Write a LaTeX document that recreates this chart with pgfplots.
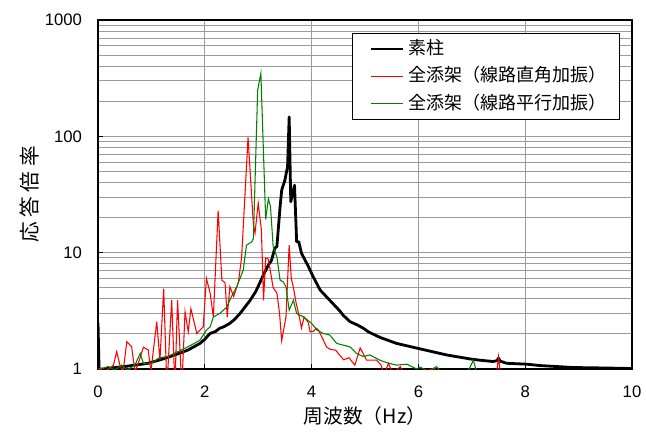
\documentclass[border=0pt]{standalone}
\usepackage{fontspec}
\setmainfont{Liberation Sans}
\newfontfamily\jp{Noto Sans CJK JP}
\usepackage{pgfplots}
\pgfplotsset{compat=1.18}
\definecolor{gridc}{RGB}{155,155,155}
\definecolor{rd}{RGB}{255,0,0}
\definecolor{gr}{RGB}{0,128,0}
\begin{document}
\begin{tikzpicture}
\begin{axis}[
 scale only axis, width=400.5pt, height=261.75pt,
 ymode=log, xmin=0, xmax=10, ymin=1, ymax=1000,
 xtick={0,2,...,10}, ytick={1,10,100,1000}, yticklabels={1,10,100,1000},
 minor ytick={2,3,...,9,20,30,...,90,200,300,...,900},
 xmajorgrids, ymajorgrids, yminorgrids,
 grid style={gridc, line width=0.75pt},
 minor grid style={gridc, line width=0.75pt},
 axis line style={black, line width=1pt},
 tick style={black, line width=0.75pt},
 major tick length=4pt, minor tick length=0pt, tick align=inside,
 xtick pos=bottom, ytick pos=left,
 ticklabel style={font=\fontsize{12.5}{14}\selectfont},
 /pgf/number format/assume math mode=true,
 yticklabel style={xshift=-8.5pt},
 xticklabel style={yshift=-9pt},
 xlabel={\jp\fontsize{14.8}{16}\selectfont 周波数（Hz）},
 ylabel={\jp\fontsize{15.5}{16}\selectfont 応\kern3.5pt 答\kern3.5pt 倍\kern3.5pt 率},
 xlabel style={at={(axis description cs:0.5,-0.1347)}, anchor=center},
 ylabel style={at={(axis description cs:-0.1273,0.5)}, anchor=center},
 legend style={at={(0.9775,0.9628)}, anchor=north east, draw=black, line width=0.75pt,
   fill=white, inner xsep=6pt, inner ysep=4.6pt, row sep=6.6pt,
   font=\jp\fontsize{13.5}{16}\selectfont,
   nodes={inner xsep=3.5pt, inner ysep=0pt, text height=11pt, text depth=3pt}},
 legend cell align=left,
 legend image code/.code={\path (0pt,0pt); \draw[#1] (7pt,0pt) -- (31pt,0pt);},
]
\addplot[black, line width=2.1pt, line join=round] coordinates {
(0,2.5) (0.02,1.0) (0.1,1.0) (0.32,1.03) (0.5,1.05) (0.69,1.08) (0.94,1.12)
(1.19,1.21) (1.44,1.32) (1.69,1.46) (1.91,1.66) (2.0,1.8) (2.07,1.96) (2.10,2.02)
(2.2,2.1) (2.28,2.24) (2.35,2.3) (2.47,2.47) (2.55,2.65) (2.66,3.0) (2.75,3.4)
(2.85,3.9) (2.95,4.6) (3.03,5.5) (3.10,6.5) (3.19,7.8) (3.25,8.6) (3.31,10.9)
(3.35,11.3) (3.41,24.8) (3.44,34.5) (3.50,42) (3.55,55) (3.58,147) (3.61,27.4)
(3.68,38) (3.72,12.4) (3.76,12.4) (3.81,9.9) (3.94,7.6) (4.03,6.2) (4.16,4.77)
(4.34,3.9) (4.53,3.15) (4.59,2.9) (4.72,2.55) (4.85,2.4) (4.97,2.24) (5.06,2.09)
(5.28,1.87) (5.59,1.66) (6.03,1.49) (6.53,1.32) (6.97,1.22) (7.15,1.19) (7.40,1.16)
(7.47,1.18) (7.50,1.24) (7.53,1.17) (7.65,1.12) (8.03,1.10) (8.28,1.07) (8.9,1.03)
(9.5,1.02) (10,1.01)
};
\addlegendentry{素柱}
\addplot[rd, line width=0.8pt] coordinates {
(0,1.0) (0.04,1.01) (0.1,0.95) (0.2,1.0) (0.29,1.08) (0.35,1.41) (0.41,1.08)
(0.47,0.95) (0.54,1.72) (0.63,1.55) (0.69,0.95) (0.75,1.1) (0.85,1.54) (0.94,1.46)
(0.99,0.95) (1.10,2.55) (1.16,1.19) (1.23,4.9) (1.29,0.7) (1.38,3.9) (1.44,0.7)
(1.49,3.9) (1.57,0.7) (1.63,3.1) (1.69,2.09) (1.74,3.3) (1.85,2.02) (1.97,2.3)
(2.03,6.0) (2.10,4.5) (2.16,2.8) (2.25,23) (2.32,5.8) (2.38,5.5) (2.42,2.8)
(2.47,5.1) (2.54,4.2) (2.63,5.6) (2.69,9.2) (2.81,98) (2.91,17.3) (2.94,14.7)
(3.00,26.7) (3.06,15.6) (3.10,3.9) (3.14,9.0) (3.19,8.8) (3.28,5.0) (3.35,4.5)
(3.40,3.0) (3.44,1.75) (3.52,2.8) (3.58,11.6) (3.62,6) (3.66,5.0) (3.71,3.7)
(3.77,2.8) (3.81,2.25) (3.86,2.8) (3.94,2.5) (3.97,2.09) (4.03,2.1) (4.09,2.24)
(4.13,2.16) (4.22,1.77) (4.28,1.55) (4.34,1.48) (4.45,1.45) (4.6,1.2) (4.7,1.25)
(4.81,1.08) (4.91,1.52) (5.03,1.19) (5.22,1.19) (5.30,1.08) (5.36,0.9) (5.44,1.12)
(5.52,0.9) (5.66,1.05) (5.75,0.85) (6.0,0.9) (6.3,1.02) (6.4,0.8) (7.0,0.8)
(7.45,0.8) (7.5,1.27) (7.55,0.8) (8,0.8) (10,0.8)
};
\addlegendentry{全添架（線路直角加振）}
\addplot[gr, line width=0.8pt] coordinates {
(0,0.95) (0.05,1.0) (0.19,1.05) (0.32,0.98) (0.44,1.08) (0.55,0.98) (0.69,1.08)
(0.79,1.36) (0.85,1.12) (0.95,1.1) (1.05,1.15) (1.13,1.24) (1.32,1.29) (1.45,1.38)
(1.57,1.46) (1.75,1.61) (1.91,1.77) (2.03,2.16) (2.10,2.3) (2.16,2.8) (2.28,3.0)
(2.41,3.4) (2.50,4.2) (2.60,5.1) (2.72,7.1) (2.78,11.6) (2.88,12.4) (2.91,13.2)
(2.99,250) (3.05,348) (3.14,19.3) (3.19,29) (3.23,25) (3.28,11.3) (3.35,9.2)
(3.41,5.8) (3.47,5.6) (3.52,5.1) (3.58,3.2) (3.66,3.9) (3.72,3.0) (3.85,2.8)
(4.0,2.47) (4.10,2.16) (4.22,2.02) (4.34,1.96) (4.47,1.66) (4.60,1.6) (4.72,1.55)
(4.84,1.36) (4.97,1.28) (5.09,1.32) (5.28,1.19) (5.44,1.12) (5.59,1.08) (5.78,1.10)
(5.97,1.0) (6.03,1.04) (6.2,0.95) (6.34,1.05) (6.45,0.9) (6.9,0.9) (7.03,1.19)
(7.1,0.9) (8,0.85) (10,0.85)
};
\addlegendentry{全添架（線路平行加振）}
\end{axis}
\pgfresetboundingbox
\path ([shift={(-73.5pt,-47.25pt)}]current axis.south west) rectangle ([shift={(10.5pt,15pt)}]current axis.north east);
\end{tikzpicture}
\end{document}
